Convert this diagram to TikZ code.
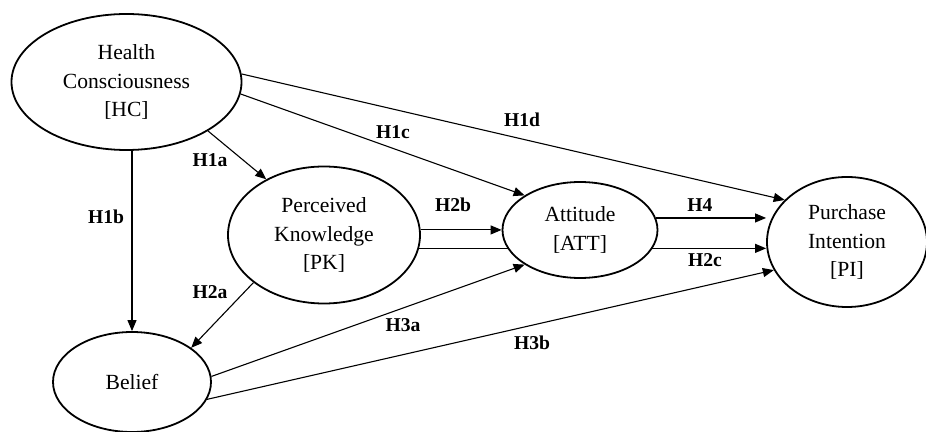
\documentclass[tikz,border=0pt]{standalone}
\usepackage{fontspec}
\setmainfont{Liberation Serif}
\usetikzlibrary{shapes.geometric,arrows.meta,backgrounds}

\begin{document}
\begin{tikzpicture}[x=0.5pt, y=-0.5pt, >={Triangle[length=5.5pt,width=4.5pt]},
	construct/.style={draw, ellipse, line width=0.9pt, fill=white, inner sep=0pt, align=center, font=\fontsize{10.8}{14.3}\selectfont},
	hyp/.style={font=\fontsize{9.8}{12}\selectfont\bfseries},
	link/.style={->, line width=0.55pt}]
			\useasboundingbox (0,0) rectangle (926,432);
			
			% constructs
			\node[construct, minimum width=115pt, minimum height=68pt] (HC) at (126.5,82) {Health\\Consciousness\\{[HC]}};
			\node[construct, minimum width=96pt, minimum height=68.5pt] (PK) at (324,235) {Perceived\\Knowledge\\{[PK]}};
			\node[construct, minimum width=77.5pt, minimum height=48pt] (ATT) at (580,230) {Attitude\\{[ATT]}};
			\node[construct, minimum width=80pt, minimum height=65pt] (PI) at (847,242) {Purchase\\Intention\\{[PI]}};
			\node[construct, minimum width=79pt, minimum height=50pt] (B) at (132,382) {Belief};
			
			% hypotheses
			\begin{scope}[on background layer]
				\draw[link] (HC.-31) -- (PK.136);
				\draw[link] (HC.south -| B.north) -- (B.north);
				\draw[link] (HC.-6) -- (ATT.148);
				\draw[link] (HC.4) -- (PI.146);
				\draw[link] (PK.214) -- (B.30);
				\draw[link] (PK.3) -- (PK.3 -| ATT.west);
				\draw[link] (PK.-8) -- (PK.-8 -| PI.west);
				\draw[link] (ATT.9) -- (ATT.9 -| PI.west);
				\draw[link] (B.4) -- (ATT.212);
				\draw[link] (B.-13) -- (PI.201);
			\end{scope}
			
			\node[hyp] (h1a) at (210,160) {H1a};
			\node[hyp] (h1b) at (106,217) {H1b};
			\node[hyp] (h1c) at (393,132) {H1c};
			\node[hyp] (h1d) at (522,120) {H1d};
			\node[hyp] (h2a) at (210,292) {H2a};
			\node[hyp] (h2b) at (453,205) {H2b};
			\node[hyp] (h2c) at (705,260) {H2c};
			\node[hyp] (h3a) at (403,325) {H3a};
			\node[hyp] (h3b) at (532,343) {H3b};
			\node[hyp] (h4) at (700,205) {H4};
		\end{tikzpicture}
\end{document}
